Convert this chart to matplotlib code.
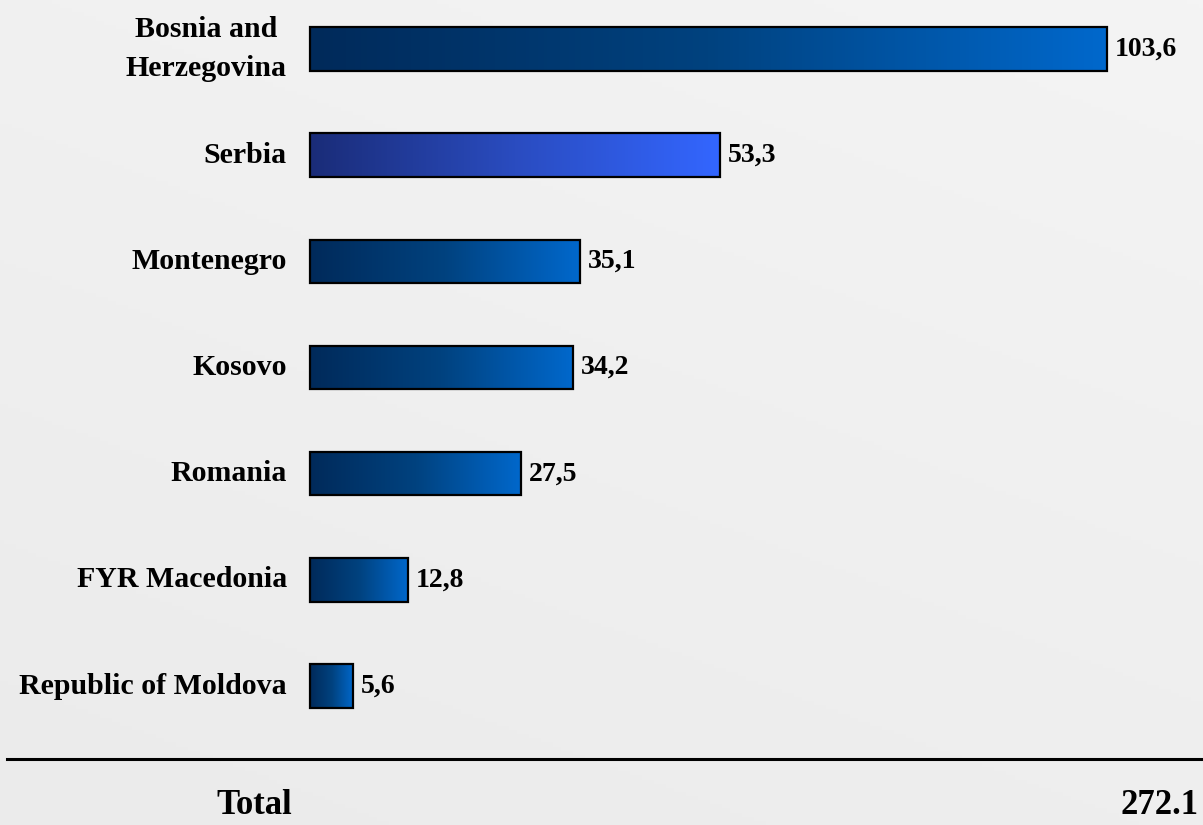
import numpy as np
import matplotlib.pyplot as plt
from matplotlib.colors import LinearSegmentedColormap
from matplotlib.patches import Rectangle

categories = ["Bosnia and\nHerzegovina", "Serbia", "Montenegro", "Kosovo",
              "Romania", "FYR Macedonia", "Republic of Moldova"]
values = [103.6, 53.3, 35.1, 34.2, 27.5, 12.8, 5.6]
value_labels = ["103,6", "53,3", "35,1", "34,2", "27,5", "12,8", "5,6"]
total_label = "Total"
total_value = "272.1"

W, H = 1203, 825
fig = plt.figure(figsize=(W / 100, H / 100), dpi=100)

# background gradient
bg = fig.add_axes([0, 0, 1, 1], zorder=0)
xx, yy = np.meshgrid(np.linspace(0, 1, 300), np.linspace(0, 1, 200))
g = 0.35 * xx + 0.65 * (1 - yy)
bgcmap = LinearSegmentedColormap.from_list("bg", ["#ebebeb", "#f4f4f4"])
bg.imshow(g, cmap=bgcmap, aspect="auto", extent=[0, 1, 0, 1], origin="upper")
bg.set_axis_off()

ax = fig.add_axes([0, 0, 1, 1], zorder=1)
ax.patch.set_alpha(0)
px_per_unit = 7.69
x0_px = 310
spacing = 106.17
y0_px = 49
ax.set_axis_off()

normal_cmap = LinearSegmentedColormap.from_list("n", ["#002a5a", "#00427f", "#0068cc"])
serbia_cmap = LinearSegmentedColormap.from_list("s", ["#1a2c78", "#2a4cc0", "#3366ff"])
grad = np.linspace(0, 1, 256).reshape(1, -1)

bar_h = 0.41
font = "Liberation Serif"
for i, (cat, v, lab) in enumerate(zip(categories, values, value_labels)):
    cmap = serbia_cmap if cat == "Serbia" else normal_cmap
    ext = [0, v, i + bar_h / 2, i - bar_h / 2]
    ax.imshow(grad, cmap=cmap, aspect="auto", extent=ext, zorder=2,
              interpolation="bilinear")
    ax.add_patch(Rectangle((0, i - bar_h / 2), v, bar_h, fill=False,
                           edgecolor="black", linewidth=1.6, zorder=3))
    ax.text(v + 1.0, i, lab, ha="left", va="center", fontsize=20,
            fontweight="bold", family=font, zorder=4)
    ax.text(-3.0, i, cat, ha="right", multialignment="center",
            va="center", fontsize=21.5, fontweight="bold", family=font,
            linespacing=1.6, zorder=4)
ax.set_xlim(-x0_px / px_per_unit, (W - x0_px) / px_per_unit)
ax.set_ylim((H - y0_px) / spacing, -y0_px / spacing)

# separator line and total
fig.add_artist(plt.Line2D([7 / W, 1.0], [1 - 759 / H, 1 - 759 / H],
                          color="black", linewidth=2.2, zorder=5))
fig.text(254 / W, 1 - 806 / H, total_label, ha="center", va="center",
         fontsize=25, fontweight="bold", family=font, zorder=5)
fig.text(1198 / W, 1 - 806 / H, total_value, ha="right", va="center",
         fontsize=25, fontweight="bold", family=font, zorder=5)

fig.savefig("out.png", dpi=100)
